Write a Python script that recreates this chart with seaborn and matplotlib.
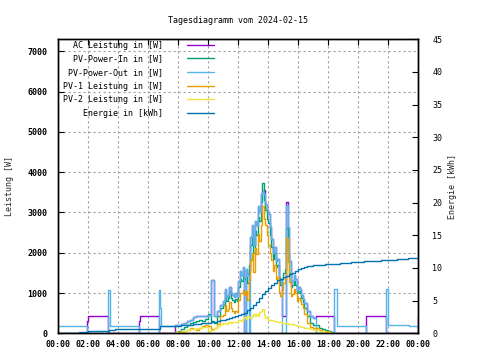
import matplotlib

matplotlib.use("Agg")
import matplotlib.pyplot as plt
import seaborn as sns
from matplotlib.ticker import FixedLocator, FuncFormatter

# Zeitraster tagsueber (Stunden)
tag_zeit = [
    7.8, 8.0, 8.2, 8.4, 8.6, 8.8, 9.0, 9.2, 9.4, 9.6, 9.8, 10.0, 10.2, 10.4, 10.6, 10.8,
    11.0, 11.1, 11.2, 11.3, 11.4, 11.5, 11.6, 11.7, 11.8, 11.9,
    12.0, 12.1, 12.2, 12.3, 12.4, 12.5, 12.6, 12.7, 12.8, 12.9,
    13.0, 13.1, 13.2, 13.3, 13.4, 13.5, 13.6, 13.7, 13.8, 13.9,
    14.0, 14.1, 14.2, 14.3, 14.4, 14.5, 14.6, 14.7, 14.8, 14.9,
    15.0, 15.1, 15.2, 15.3, 15.4, 15.5, 15.6, 15.7, 15.8, 15.9,
    16.0, 16.1, 16.2, 16.3, 16.4,
    16.6, 16.8, 17.0, 17.2, 17.4, 17.6, 17.8, 18.0, 18.2, 18.4, 18.6,
]

# AC Leistung [W]
ac_frueh_zeit = [0.0, 1.9, 1.96, 3.3, 5.35, 5.42, 6.73]
ac_frueh = [0, 300, 430, 0, 300, 430, 0]
ac_tag = [
    200, 200, 230, 260, 300, 330, 400, 430, 430, 430, 430, 450, 1320, 420, 550, 700,
    800, 1100, 900, 950, 1150, 1000, 950, 900, 1000, 900,
    1300, 1550, 1450, 1650, 0, 1600, 1450, 1550, 2400, 2700,
    2200, 2800, 2700, 3150, 3000, 3450, 3500, 3560, 3220, 3050,
    2950, 2650, 2350, 2000, 2150, 1800, 1850, 1400, 1300, 430,
    430, 430, 3260, 2640, 1800, 1250, 1300, 1450, 1350, 1050,
    1150, 1100, 950, 850, 760,
    560, 430, 370, 430, 430, 430, 430, 430, 430, 0, 0,
]
ac_spaet_zeit = [20.5, 21.85, 23.97, 24.0]
ac_spaet = [430, 0, 430, 430]

# PV-Power-In [W]
pv_in_tag = [
    30, 60, 100, 150, 200, 250, 280, 300, 320, 300, 350, 480, 300, 250, 420, 620,
    700, 950, 800, 870, 1050, 880, 830, 780, 850, 800,
    1150, 1350, 1300, 1450, 1350, 1400, 1250, 1700, 2200, 2450,
    2000, 2550, 2450, 2900, 2800, 3250, 3740, 3300, 3050, 2850,
    2750, 2450, 2150, 1850, 2000, 1650, 1700, 1300, 1200, 1350,
    1500, 1600, 2620, 2000, 1500, 1150, 1200, 1300, 1200, 1000,
    1050, 1000, 880, 780, 620,
    420, 260, 200, 200, 130, 110, 80, 60, 20, 0, 0,
]

# PV-Power-Out [W]
pv_out_frueh_zeit = [0.0, 1.9, 3.3, 3.45, 5.35, 6.73, 6.8, 6.86]
pv_out_frueh = [175, 0, 1080, 175, 0, 1080, 620, 175]
pv_out_tag = [
    200, 200, 230, 260, 300, 330, 400, 420, 420, 430, 440, 450, 1320, 420, 550, 700,
    800, 1100, 900, 950, 1150, 1000, 950, 900, 1000, 900,
    1300, 1550, 1450, 1650, 0, 1600, 1450, 0, 2400, 2700,
    2200, 2800, 2700, 3150, 3000, 3450, 3500, 3450, 3220, 3050,
    2950, 2650, 2350, 2000, 2150, 1800, 1850, 1400, 1300, 0,
    0, 0, 3180, 2640, 1800, 1250, 1300, 1450, 1350, 1050,
    1150, 1100, 950, 850, 760,
    560, 430, 370, 0, 0, 0, 0, 0, 0, 1100, 190,
]
pv_out_spaet_zeit = [20.5, 21.85, 22.0, 23.4, 23.97, 24.0]
pv_out_spaet = [0, 1100, 200, 170, 0, 0]

# PV-1 Leistung [W]
pv1_tag = [
    20, 30, 40, 60, 90, 120, 100, 90, 130, 170, 200, 190, 110, 130, 240, 420,
    450, 700, 560, 600, 770, 620, 550, 500, 560, 520,
    830, 1000, 990, 1070, 950, 1040, 830, 1300, 1820, 2000,
    1530, 2120, 1960, 2460, 2280, 2700, 3150, 2850, 2680, 2450,
    2200, 2000, 1830, 1540, 1700, 1350, 1400, 1020, 930, 1080,
    1240, 1350, 2370, 1760, 1270, 920, 980, 1090, 1000, 810,
    870, 830, 720, 630, 480,
    260, 160, 130, 140, 90, 60, 50, 20, 0, 0, 0,
]

# PV-2 Leistung [W]
pv2_tag = [
    20, 40, 50, 60, 80, 100, 110, 120, 140, 150, 160, 60, 90, 130, 180, 220,
    250, 260, 240, 270, 280, 260, 280, 270, 290, 280,
    320, 340, 310, 380, 400, 360, 420, 400, 380, 440,
    470, 430, 490, 440, 520, 560, 600, 450, 370, 400,
    340, 330, 320, 310, 300, 300, 290, 280, 270, 265,
    260, 250, 245, 240, 230, 225, 220, 210, 200, 190,
    180, 170, 160, 150, 140,
    120, 100, 90, 80, 60, 50, 30, 20, 10, 0, 0,
]

# Energie [kWh]
energie_zeit = [
    0.23, 1.4, 2.0, 3.35, 3.8, 4.5, 6.75, 7.6, 8.2, 8.6,
    9.0, 9.5, 10.0, 10.2, 10.4, 10.6, 10.8, 11.0, 11.2, 11.4,
    11.6, 11.8, 12.0, 12.2, 12.4, 12.6, 12.8, 13.0, 13.2, 13.4,
    13.6, 13.8, 14.0, 14.2, 14.4, 14.6, 14.8, 15.0, 15.2, 15.4,
    15.6, 15.8, 16.0, 16.2, 16.4, 16.6, 16.8, 17.0, 17.4, 17.8,
    18.2, 18.8, 19.5, 20.4, 21.5, 22.6, 23.3, 24.0,
]
energie_kwh = [
    0.05, 0.2, 0.3, 0.45, 0.6, 0.72, 1.07, 1.15, 1.2, 1.28,
    1.38, 1.5, 1.6, 1.68, 1.76, 1.85, 1.97, 2.1, 2.25, 2.4,
    2.52, 2.65, 2.8, 2.95, 3.15, 3.5, 3.9, 4.3, 4.8, 5.4,
    6.0, 6.5, 6.95, 7.35, 7.75, 8.1, 8.35, 8.55, 8.8, 9.05,
    9.25, 9.5, 9.8, 10.0, 10.15, 10.25, 10.3, 10.38, 10.48, 10.55,
    10.6, 10.7, 10.86, 11.1, 11.2, 11.36, 11.45, 11.57,
]

x_ticks = list(range(0, 25, 2))
y_ticks = [0, 1000, 2000, 3000, 4000, 5000, 6000, 7000]
y2_ticks = [0, 5, 10, 15, 20, 25, 30, 35, 40, 45]


def _linie(ax, zeit, werte, farbe, label):
    sns.lineplot(
        x=zeit,
        y=werte,
        ax=ax,
        color=farbe,
        linewidth=1.0,
        drawstyle="steps-post",
        estimator=None,
        sort=False,
        label=label,
        legend=False,
    )
    return ax.get_lines()[-1]


sns.set_theme(style="white")
plt.rcParams.update(
    {
        "font.family": ["DejaVu Sans Mono"],
        "font.size": 6,
        "axes.edgecolor": "black",
        "axes.linewidth": 1.0,
        "xtick.color": "black",
        "ytick.color": "black",
        "text.color": "black",
    }
)

fig = plt.figure(figsize=(4.8, 3.6), dpi=100)
ax = fig.add_axes([0.1215, 0.0742, 0.75, 0.8166])
ax2 = ax.twinx()

handles = []
handles.append(
    _linie(ax, ac_frueh_zeit + tag_zeit + ac_spaet_zeit, ac_frueh + ac_tag + ac_spaet,
           "#9400D3", "AC Leistung in [W]")
)
handles.append(_linie(ax, tag_zeit, pv_in_tag, "#009E73", "PV-Power-In in [W]"))
handles.append(
    _linie(ax, pv_out_frueh_zeit + tag_zeit + pv_out_spaet_zeit,
           pv_out_frueh + pv_out_tag + pv_out_spaet, "#56B4E9", "PV-Power-Out in [W]")
)
handles.append(_linie(ax, tag_zeit, pv1_tag, "#E69F00", "PV-1 Leistung in [W]"))
handles.append(_linie(ax, tag_zeit, pv2_tag, "#F0E442", "PV-2 Leistung in [W]"))
handles.append(_linie(ax2, energie_zeit, energie_kwh, "#0072B2", "Energie in [kWh]"))

ax.set_xlim(0, 24)
ax.set_ylim(0, 7300)
ax2.set_ylim(0, 45)

ax.xaxis.set_major_locator(FixedLocator(x_ticks))
ax.xaxis.set_minor_locator(FixedLocator(list(range(1, 24, 2))))
ax.xaxis.set_major_formatter(FuncFormatter(lambda h, _: f"{int(h) % 24:02d}:00"))
ax.set_yticks(y_ticks)
ax2.set_yticks(y2_ticks)

ax.tick_params(axis="both", which="major", direction="in", length=4, width=0.8,
               top=True, right=False, labelsize=6, pad=8)
ax.tick_params(axis="x", which="minor", direction="in", length=2.5, width=0.8, top=False)
ax.tick_params(axis="x", pad=5)
ax2.tick_params(axis="y", direction="in", length=4, width=0.8, labelsize=6, pad=10)
for t in ax.get_xticklabels() + ax.get_yticklabels():
    t.set_fontweight("bold")

ax.grid(True, which="major", color="#a0a0a0", linestyle=(0, (2, 2.5)), linewidth=0.8)
ax.set_axisbelow(True)
ax2.grid(False)

ax.set_ylabel("Leistung [W]", fontsize=6)
ax.yaxis.set_label_coords(-0.123, 0.5)
ax2.set_ylabel("Energie [kWh]", fontsize=6)
ax2.yaxis.set_label_coords(1.0825, 0.5)
ax.set_title("Tagesdiagramm vom 2024-02-15", fontsize=6, pad=12)

ax.legend(
    handles,
    [h.get_label() for h in handles],
    loc="upper left",
    bbox_to_anchor=(0.013, 0.995),
    frameon=False,
    markerfirst=False,
    handlelength=3.25,
    handletextpad=2.9,
    labelspacing=0.55,
    borderpad=0,
    borderaxespad=0,
    fontsize=6,
)

fig.savefig("out.png", dpi=100)
